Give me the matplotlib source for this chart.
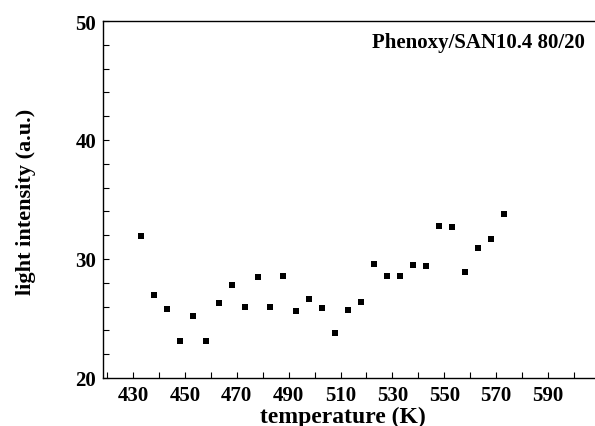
import matplotlib
matplotlib.use("Agg")
import matplotlib.pyplot as plt
from matplotlib.ticker import MultipleLocator

temperature = [433, 438, 443, 448, 453, 458, 463, 468, 473, 478, 483, 488, 493, 498,
               503, 508, 513, 518, 523, 528, 533, 538, 543, 548, 553, 558, 563, 568, 573]
intensity = [31.9, 27.0, 25.8, 23.1, 25.2, 23.1, 26.3, 27.8, 26.0, 28.5, 26.0, 28.6, 25.6, 26.6,
             25.9, 23.8, 25.7, 26.4, 29.6, 28.6, 28.6, 29.5, 29.4, 32.8, 32.7, 28.9, 30.9, 31.7, 33.8]
label_text = "Phenoxy/SAN10.4 80/20"

plt.rcParams['font.family'] = ['Liberation Serif', 'DejaVu Serif']
plt.rcParams['font.weight'] = 'bold'

fig = plt.figure(figsize=(5.95, 4.27), dpi=100)
W, H = 595, 427
left, right, top, bottom = 103, 595, 22, 379
ax = fig.add_axes([left / W, 1 - bottom / H, (right - left) / W, (bottom - top) / H])

ax.scatter(temperature, intensity, marker='s', s=25, color='black', linewidths=0)

# x: 430 at px 133, 2.594 px/K
x0 = 430 + (left - 133) / 2.594
x1 = 430 + (right - 133) / 2.594
ax.set_xlim(x0, x1)
ax.set_ylim(20, 50)

ax.set_xticks(range(430, 600, 20))
ax.xaxis.set_minor_locator(MultipleLocator(10))
ax.yaxis.set_major_locator(MultipleLocator(10))
ax.yaxis.set_minor_locator(MultipleLocator(2))

ax.tick_params(which='both', direction='in', top=False, right=False, width=0.8, colors='black')
ax.tick_params(which='major', length=4, labelsize=15, pad=5)
ax.tick_params(which='minor', length=4)
for lab in ax.get_xticklabels() + ax.get_yticklabels():
    lab.set_fontweight('bold')

ax.spines['right'].set_visible(False)
for s in ['left', 'bottom', 'top']:
    ax.spines[s].set_linewidth(1.0)

ax.set_xlabel("temperature (K)", fontsize=17, fontweight='bold', va='center', ha='center')
ax.xaxis.set_label_coords((343 - left) / (right - left), (bottom - 417) / (bottom - top))
ax.set_ylabel("light intensity (a.u.)", fontsize=16, fontweight='bold', va='center', ha='center')
ax.yaxis.set_label_coords((26 - left) / (right - left), (bottom - 202) / (bottom - top))

fig.text(372 / W, 1 - 43 / H, label_text, fontsize=15, fontweight='bold', va='center', ha='left')

fig.savefig("out.png", dpi=100)
